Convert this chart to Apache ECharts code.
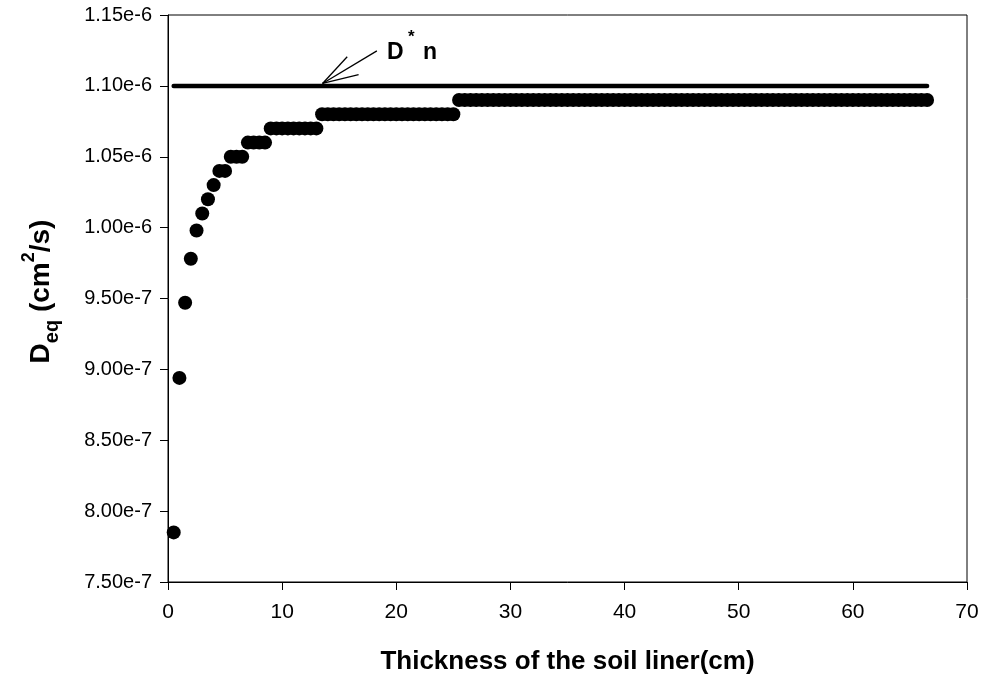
<!DOCTYPE html>
<html>
<head>
<meta charset="utf-8">
<script src="https://cdn.jsdelivr.net/npm/echarts@6/dist/echarts.min.js"></script>
<style>
  html, body { margin: 0; padding: 0; background: #fff; }
  #chart { width: 983px; height: 677px; }
</style>
</head>
<body>
<div id="chart"></div>
<script>
// soil liner thickness (cm)
const thickness = [
  0.5, 1, 1.5, 2, 2.5, 3, 3.5, 4, 4.5, 5, 5.5, 6, 6.5, 7, 7.5, 8, 8.5, 9, 9.5, 10,
  10.5, 11, 11.5, 12, 12.5, 13, 13.5, 14, 14.5, 15, 15.5, 16, 16.5, 17, 17.5, 18, 18.5, 19, 19.5, 20,
  20.5, 21, 21.5, 22, 22.5, 23, 23.5, 24, 24.5, 25, 25.5, 26, 26.5, 27, 27.5, 28, 28.5, 29, 29.5, 30,
  30.5, 31, 31.5, 32, 32.5, 33, 33.5, 34, 34.5, 35, 35.5, 36, 36.5, 37, 37.5, 38, 38.5, 39, 39.5, 40,
  40.5, 41, 41.5, 42, 42.5, 43, 43.5, 44, 44.5, 45, 45.5, 46, 46.5, 47, 47.5, 48, 48.5, 49, 49.5, 50,
  50.5, 51, 51.5, 52, 52.5, 53, 53.5, 54, 54.5, 55, 55.5, 56, 56.5, 57, 57.5, 58, 58.5, 59, 59.5, 60,
  60.5, 61, 61.5, 62, 62.5, 63, 63.5, 64, 64.5, 65, 65.5, 66, 66.5
];
// equivalent diffusion coefficient Deq (cm2/s), one per thickness
const deq = [
  7.85e-7, 8.94e-7, 9.47e-7, 9.78e-7, 9.98e-7, 1.01e-6, 1.02e-6, 1.03e-6, 1.04e-6, 1.04e-6,
  1.05e-6, 1.05e-6, 1.05e-6, 1.06e-6, 1.06e-6, 1.06e-6, 1.06e-6, 1.07e-6, 1.07e-6, 1.07e-6,
  1.07e-6, 1.07e-6, 1.07e-6, 1.07e-6, 1.07e-6, 1.07e-6, 1.08e-6, 1.08e-6, 1.08e-6, 1.08e-6,
  1.08e-6, 1.08e-6, 1.08e-6, 1.08e-6, 1.08e-6, 1.08e-6, 1.08e-6, 1.08e-6, 1.08e-6, 1.08e-6,
  1.08e-6, 1.08e-6, 1.08e-6, 1.08e-6, 1.08e-6, 1.08e-6, 1.08e-6, 1.08e-6, 1.08e-6, 1.08e-6,
  1.09e-6, 1.09e-6, 1.09e-6, 1.09e-6, 1.09e-6, 1.09e-6, 1.09e-6, 1.09e-6, 1.09e-6, 1.09e-6,
  1.09e-6, 1.09e-6, 1.09e-6, 1.09e-6, 1.09e-6, 1.09e-6, 1.09e-6, 1.09e-6, 1.09e-6, 1.09e-6,
  1.09e-6, 1.09e-6, 1.09e-6, 1.09e-6, 1.09e-6, 1.09e-6, 1.09e-6, 1.09e-6, 1.09e-6, 1.09e-6,
  1.09e-6, 1.09e-6, 1.09e-6, 1.09e-6, 1.09e-6, 1.09e-6, 1.09e-6, 1.09e-6, 1.09e-6, 1.09e-6,
  1.09e-6, 1.09e-6, 1.09e-6, 1.09e-6, 1.09e-6, 1.09e-6, 1.09e-6, 1.09e-6, 1.09e-6, 1.09e-6,
  1.09e-6, 1.09e-6, 1.09e-6, 1.09e-6, 1.09e-6, 1.09e-6, 1.09e-6, 1.09e-6, 1.09e-6, 1.09e-6,
  1.09e-6, 1.09e-6, 1.09e-6, 1.09e-6, 1.09e-6, 1.09e-6, 1.09e-6, 1.09e-6, 1.09e-6, 1.09e-6,
  1.09e-6, 1.09e-6, 1.09e-6, 1.09e-6, 1.09e-6, 1.09e-6, 1.09e-6, 1.09e-6, 1.09e-6, 1.09e-6,
  1.09e-6, 1.09e-6, 1.09e-6
];
// D* n reference line
const dStarNRange = [0.5, 66.5];
const dStarN = 1.10e-6;
// leader lines of the "D* n" label: [from, to] in data units
const leaderFrom = [13.54, 1.1017e-6];
const leaderTo = [[15.7, 1.1205e-6], [18.3, 1.1247e-6], [16.7, 1.108e-6]];

const xRange = [0, 70, 10];
const yRange = [7.5e-7, 1.15e-6, 5e-8];

const FONT = '"Liberation Sans", Arial, sans-serif';

const chart = echarts.init(document.getElementById('chart'), null, { renderer: 'canvas' });

chart.setOption({
  animation: false,
  backgroundColor: '#fff',
  textStyle: { fontFamily: FONT, color: '#000' },
  grid: {
    left: 168, right: 16, top: 15, bottom: 95,
    show: true, borderColor: '#000', borderWidth: 1,
    containLabel: false, outerBoundsMode: 'none'
  },
  xAxis: {
    type: 'value',
    min: xRange[0], max: xRange[1], interval: xRange[2],
    name: 'Thickness of the soil liner(cm)',
    nameLocation: 'middle', nameGap: 67,
    nameTextStyle: { fontSize: 26, fontWeight: 'bold', fontFamily: FONT, color: '#000' },
    axisLine: { show: true, lineStyle: { color: '#000', width: 1 } },
    axisTick: { show: true, inside: false, length: 8, lineStyle: { color: '#000' } },
    axisLabel: { fontSize: 21, margin: 20, color: '#000', fontFamily: FONT },
    splitLine: { show: false }
  },
  yAxis: {
    type: 'value',
    min: yRange[0], max: yRange[1], interval: yRange[2],
    name: '{b|D}{sub|eq}{b| (cm}{sup|2}{b|/s)}',
    nameLocation: 'middle', nameGap: 106, nameRotate: 90,
    nameTextStyle: {
      fontFamily: FONT, color: '#000',
      padding: [0, 0, 0, 14],
      rich: {
        b: { fontSize: 28, fontWeight: 'bold', fontFamily: FONT, lineHeight: 42 },
        sub: { fontSize: 20, fontWeight: 'bold', fontFamily: FONT, verticalAlign: 'bottom', lineHeight: 20 },
        sup: { fontSize: 18, fontWeight: 'bold', fontFamily: FONT, verticalAlign: 'top', lineHeight: 18 }
      }
    },
    axisLine: { show: true, lineStyle: { color: '#000', width: 1 } },
    axisTick: { show: true, inside: false, length: 8, lineStyle: { color: '#000' } },
    axisLabel: {
      fontSize: 20, margin: 16, color: '#000', fontFamily: FONT,
      formatter: v => v.toExponential(2)
    },
    splitLine: { show: false }
  },
  graphic: [
    { type: 'text', left: 387, top: 41, silent: true,
      style: { text: 'D', fontSize: 23, fontWeight: 'bold', fontFamily: FONT, fill: '#000' } },
    { type: 'text', left: 408, top: 29, silent: true,
      style: { text: '*', fontSize: 17, fontWeight: 'bold', fontFamily: FONT, fill: '#000' } },
    { type: 'text', left: 423, top: 41, silent: true,
      style: { text: 'n', fontSize: 23, fontWeight: 'bold', fontFamily: FONT, fill: '#000' } }
  ],
  series: [
    {
      name: 'Deq',
      type: 'scatter',
      symbol: 'circle',
      symbolSize: 14,
      itemStyle: { color: '#000', opacity: 1 },
      data: thickness.map((t, i) => [t, deq[i]]),
      z: 2
    },
    {
      name: 'D* n',
      type: 'line',
      showSymbol: false,
      symbol: 'none',
      lineStyle: { color: '#000', width: 4.5, cap: 'round' },
      data: dStarNRange.map(t => [t, dStarN]),
      markLine: {
        silent: true,
        symbol: ['none', 'none'],
        label: { show: false },
        lineStyle: { color: '#000', width: 1.3, type: 'solid' },
        data: leaderTo.map(p => [{ coord: leaderFrom }, { coord: p }])
      },
      z: 3
    }
  ]
});
</script>
</body>
</html>
